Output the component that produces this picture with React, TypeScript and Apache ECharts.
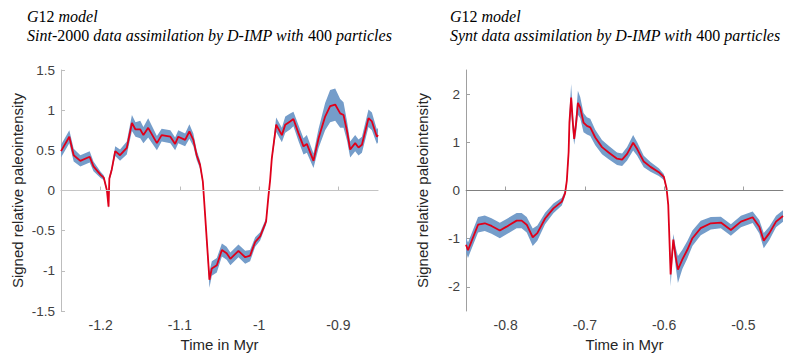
import React, { useEffect, useRef } from "react";
import * as echarts from "echarts";

// ---------- Left panel: Sint-2000 ----------
const leftTime = [
  -1.25, -1.2465, -1.2395, -1.234, -1.2256, -1.2138, -1.209, -1.2, -1.196, -1.192,
  -1.19, -1.189, -1.186, -1.1816, -1.1755, -1.167, -1.1605, -1.156, -1.15, -1.146,
  -1.14, -1.129, -1.123, -1.112, -1.106, -1.102, -1.0934, -1.088, -1.083, -1.0788,
  -1.0745, -1.071, -1.069, -1.0627, -1.0597, -1.0534, -1.047, -1.041, -1.0363, -1.0261,
  -1.0176, -1.0114, -1.005, -0.9987, -0.9912, -0.9883, -0.9861, -0.984, -0.9785, -0.9713,
  -0.967, -0.9609, -0.9567, -0.9504, -0.944, -0.9398, -0.9314, -0.925, -0.9167, -0.9104,
  -0.904, -0.8977, -0.8935, -0.889, -0.8851, -0.8788, -0.8746, -0.8703, -0.862, -0.8577,
  -0.8514, -0.85,
];
const leftMean = [
  0.49, 0.55, 0.67, 0.44, 0.37, 0.42, 0.3, 0.195, 0.16, 0.0,
  -0.2, 0.15, 0.26, 0.49, 0.44, 0.53, 0.84, 0.76, 0.76, 0.69,
  0.78, 0.59, 0.69, 0.67, 0.58, 0.67, 0.63, 0.735, 0.63, 0.44,
  0.32, 0.11, -0.18, -1.11, -0.97, -0.93, -0.74, -0.78, -0.85, -0.75,
  -0.83, -0.81, -0.64, -0.57, -0.385, -0.075, 0.13, 0.4, 0.82, 0.69,
  0.82, 0.86, 0.89, 0.715, 0.55, 0.58, 0.37, 0.65, 0.92, 1.05,
  1.07, 0.96, 0.94, 0.735, 0.51, 0.59, 0.535, 0.57, 0.9, 0.86,
  0.67, 0.69,
];
const leftHalfWidth = [
  0.08, 0.08, 0.08, 0.08, 0.07, 0.07, 0.06, 0.04, 0.03, 0.03,
  0.03, 0.03, 0.04, 0.06, 0.07, 0.08, 0.1, 0.09, 0.11, 0.1,
  0.12, 0.09, 0.08, 0.08, 0.08, 0.08, 0.08, 0.09, 0.08, 0.06,
  0.05, 0.03, 0.03, 0.1, 0.09, 0.09, 0.08, 0.08, 0.08, 0.08,
  0.08, 0.07, 0.06, 0.05, 0.04, 0.03, 0.03, 0.04, 0.09, 0.09,
  0.1, 0.1, 0.09, 0.1, 0.1, 0.11, 0.09, 0.12, 0.17, 0.2,
  0.2, 0.18, 0.16, 0.12, 0.1, 0.1, 0.1, 0.1, 0.11, 0.11,
  0.09, 0.09,
];

// ---------- Right panel: Synt ----------
const rightTime = [
  -0.85, -0.8475, -0.8432, -0.8348, -0.8263, -0.8178, -0.8073, -0.7988, -0.7861, -0.7798,
  -0.7734, -0.7658, -0.76, -0.7502, -0.7397, -0.7291, -0.725, -0.7228, -0.7205, -0.7195,
  -0.7173, -0.7152, -0.7135, -0.711, -0.7088, -0.7059, -0.7017, -0.6974, -0.6932, -0.6869,
  -0.6784, -0.67, -0.6594, -0.653, -0.6467, -0.6391, -0.634, -0.6257, -0.6172, -0.6067,
  -0.6003, -0.5969, -0.5948, -0.594, -0.5918, -0.5884, -0.5855, -0.5826, -0.577, -0.5707,
  -0.5643, -0.5538, -0.5411, -0.5284, -0.5158, -0.5031, -0.4883, -0.4799, -0.4743, -0.4672,
  -0.4588, -0.45,
];
const rightMean = [
  -1.125, -1.24, -1.06, -0.71, -0.68, -0.735, -0.83, -0.75, -0.625, -0.625,
  -0.71, -0.97, -0.885, -0.58, -0.37, -0.23, -0.06, 0.2, 0.8, 1.41,
  1.93, 1.41, 1.07, 1.41, 1.82, 1.72, 1.41, 1.34, 1.31, 1.1,
  0.9, 0.79, 0.66, 0.64, 0.76, 0.99, 0.86, 0.6, 0.49, 0.38,
  0.28, 0.04, -0.3, -0.68, -1.74, -1.02, -1.37, -1.64, -1.43, -1.23,
  -0.99, -0.78, -0.68, -0.665, -0.82, -0.645, -0.555, -0.75, -1.04, -0.885,
  -0.645, -0.53,
];
const rightHalfWidth = [
  0.15, 0.16, 0.16, 0.16, 0.16, 0.16, 0.16, 0.16, 0.16, 0.16,
  0.16, 0.18, 0.16, 0.12, 0.1, 0.08, 0.06, 0.06, 0.15, 0.2,
  0.28, 0.2, 0.12, 0.2, 0.25, 0.22, 0.2, 0.18, 0.18, 0.16,
  0.15, 0.14, 0.13, 0.13, 0.14, 0.16, 0.14, 0.12, 0.1, 0.08,
  0.06, 0.04, 0.05, 0.08, 0.25, 0.12, 0.2, 0.28, 0.2, 0.18,
  0.16, 0.15, 0.13, 0.12, 0.12, 0.12, 0.12, 0.14, 0.16, 0.14,
  0.12, 0.12,
];

const leftYTicks = [-1.5, -1, -0.5, 0, 0.5, 1, 1.5];
const leftXTicks = [-1.2, -1.1, -1, -0.9];
const rightYTicks = [-2, -1, 0, 1, 2];
const rightXTicks = [-0.8, -0.7, -0.6, -0.5];

const BAND = "#759dca";
const RED = "#e0001a";
const SANS = "'Liberation Sans', Helvetica, Arial, sans-serif";
const SERIF = "'Liberation Serif', 'Times New Roman', serif";

function bandSeries(t: number[], m: number[], hw: number[], idx: number, zeroColor: string) {
  return {
    type: "custom",
    xAxisIndex: idx,
    yAxisIndex: idx,
    z: 1,
    silent: true,
    clip: true,
    data: [[t[0], m[0]]],
    renderItem: (_params: any, api: any) => {
      const pts: number[][] = [];
      for (let i = 0; i < t.length; i++) pts.push(api.coord([t[i], m[i] + hw[i]]));
      for (let i = t.length - 1; i >= 0; i--) pts.push(api.coord([t[i], m[i] - hw[i]]));
      return { type: "polygon", shape: { points: pts }, style: { fill: BAND } };
    },
    markLine: {
      silent: true,
      symbol: "none",
      label: { show: false },
      lineStyle: { color: zeroColor, width: 1, type: "solid" },
      data: [{ yAxis: 0 }],
    },
  };
}

function lineSeries(t: number[], m: number[], idx: number) {
  return {
    type: "line",
    xAxisIndex: idx,
    yAxisIndex: idx,
    z: 3,
    showSymbol: false,
    silent: true,
    data: t.map((x, i) => [x, m[i]]),
    lineStyle: { color: RED, width: 1.8 },
    itemStyle: { color: RED },
  };
}

function xAxis(idx: number, min: number, max: number, ticks: number[], axisColor: string) {
  return {
    type: "value",
    gridIndex: idx,
    min,
    max,
    name: "Time in Myr",
    nameLocation: "middle",
    nameGap: 23,
    nameTextStyle: { fontFamily: SANS, fontSize: 15, color: "#262626" },
    axisLine: { show: true, lineStyle: { color: axisColor, width: 1 } },
    axisTick: { show: true, inside: true, length: 4, customValues: ticks, lineStyle: { color: axisColor } },
    axisLabel: { customValues: ticks, fontFamily: SANS, fontSize: 14, color: "#404040", margin: 7 },
    splitLine: { show: false },
  };
}

function yAxis(idx: number, min: number, max: number, ticks: number[], axisColor: string) {
  return {
    type: "value",
    gridIndex: idx,
    min,
    max,
    name: "Signed relative paleointensity",
    nameLocation: "middle",
    nameGap: 36,
    nameTextStyle: { fontFamily: SANS, fontSize: 15, color: "#262626" },
    axisLine: { show: true, lineStyle: { color: axisColor, width: 1 } },
    axisTick: { show: true, inside: true, length: 4, customValues: ticks, lineStyle: { color: axisColor } },
    axisLabel: { customValues: ticks, fontFamily: SANS, fontSize: 13.5, color: "#404040", margin: 6 },
    splitLine: { show: false },
  };
}

const richStyles = {
  i: { fontFamily: SERIF, fontStyle: "italic", fontSize: 16, fill: "#000" },
  n: { fontFamily: SERIF, fontStyle: "normal", fontSize: 16, fill: "#000" },
};

function titleText(x: number, y: number, text: string) {
  return {
    type: "text",
    x,
    y,
    silent: true,
    style: { text, rich: richStyles, verticalAlign: "middle", align: "left" },
  };
}

export default function App() {
  const ref = useRef<HTMLDivElement>(null);
  useEffect(() => {
    if (!ref.current) return;
    const chart = echarts.init(ref.current, undefined, { renderer: "svg" });
    chart.setOption({
      animation: false,
      backgroundColor: "#ffffff",
      grid: [
        { left: 61, right: 409, top: 70, bottom: 45.5 },
        { left: 466, right: 4, top: 70, bottom: 46 },
      ],
      xAxis: [
        xAxis(0, -1.25, -0.85, leftXTicks, "#bdbdbd"),
        xAxis(1, -0.85, -0.45, rightXTicks, "#a0a0a0"),
      ],
      yAxis: [
        yAxis(0, -1.5, 1.5, leftYTicks, "#bdbdbd"),
        yAxis(1, -2.5, 2.5, rightYTicks, "#a0a0a0"),
      ],
      series: [
        bandSeries(leftTime, leftMean, leftHalfWidth, 0, "#c4c4c4"),
        lineSeries(leftTime, leftMean, 0),
        bandSeries(rightTime, rightMean, rightHalfWidth, 1, "#808080"),
        lineSeries(rightTime, rightMean, 1),
      ],
      graphic: [
        titleText(27, 16, "{i|G}{n|12}{i| model}"),
        titleText(27, 35, "{i|Sint}{n|-2000}{i| data assimilation by D-IMP with }{n|400}{i| particles}"),
        titleText(450, 16, "{i|G}{n|12}{i| model}"),
        titleText(450, 35, "{i|Synt data assimilation by D-IMP with }{n|400}{i| particles}"),
      ],
    });
    return () => chart.dispose();
  }, []);
  return <div ref={ref} style={{ width: 787, height: 357, position: "absolute", left: 0, top: 0 }} />;
}
